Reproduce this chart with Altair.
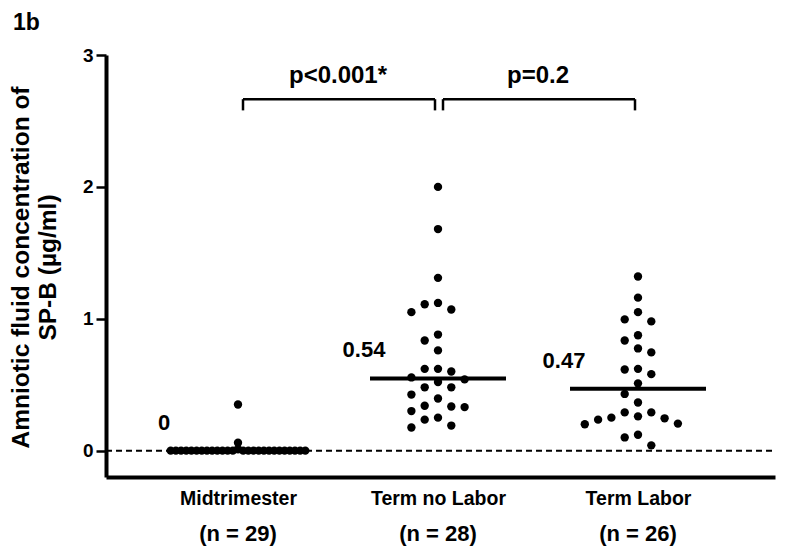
import altair as alt
import numpy as np
import pandas as pd

# ---------------- data ----------------
groups = ["Midtrimester", "Term no Labor", "Term Labor"]

mid_values = [0.35, 0.06, 0.01, 0.0, 0.0, 0.0, 0.0, 0.0, 0.0, 0.0, 0.0, 0.0,
              0.0, 0.0, 0.0, 0.0, 0.0, 0.0, 0.0, 0.0, 0.0, 0.0, 0.0, 0.0,
              0.0, 0.0, 0.0, 0.0, 0.0]
term_no_labor = [2.00, 1.68, 1.31, 1.12, 1.11, 1.07, 1.05, 0.88, 0.835, 0.76,
                 0.62, 0.62, 0.60, 0.555, 0.54, 0.52, 0.48, 0.48, 0.425, 0.395,
                 0.34, 0.335, 0.33, 0.30, 0.25, 0.235, 0.19, 0.175]
term_labor = [1.32, 1.16, 1.05, 0.995, 0.98, 0.875, 0.835, 0.775, 0.745, 0.62,
              0.615, 0.58, 0.51, 0.43, 0.365, 0.29, 0.26, 0.245, 0.205, 0.20,
              0.235, 0.25, 0.29, 0.12, 0.10, 0.04]
median_labels = ["0", "0.54", "0.47"]
comparisons = [(1, 2, "p<0.001*"), (2, 3, "p=0.2")]
y_ticks = [0, 1, 2, 3]
fig_label = "1b"

all_values = [mid_values, term_no_labor, term_labor]

# ---------------- layout ----------------
W, H = 669, 422
XMIN, XMAX = 0.34, 3.685
YMIN, YMAX = -0.2, 3.0
PX_X = W / (XMAX - XMIN)
PX_Y = H / (YMAX - YMIN)
FONT = "Liberation Sans"


def swarm(vals, step=13.3, max_half=70.0):
    """Simple greedy beeswarm; returns x offsets in data units."""
    d = step
    order = sorted(range(len(vals)), key=lambda i: -vals[i])
    while True:
        placed = []
        res = [0.0] * len(vals)
        for i in order:
            yy = vals[i] * PX_Y
            k = 0
            found = None
            while found is None:
                cands = [0] if k == 0 else [-k, k]
                for c in cands:
                    xx = c * d
                    if all((xx - px) ** 2 + (yy - py) ** 2 >= d * d * 0.98 for px, py in placed):
                        found = xx
                        break
                k += 1
            placed.append((found, yy))
            res[i] = found
        if max(abs(r) for r in res) <= max_half or d < 2:
            return [r / PX_X for r in res]
        d *= 0.93


rows = []
for gi, vals in enumerate(all_values, start=1):
    offs = swarm(vals)
    for v, o in zip(vals, offs):
        rows.append({"group": groups[gi - 1], "x": gi + o, "value": v})
points = pd.DataFrame(rows)

med = pd.DataFrame({
    "group": groups,
    "center": [1, 2, 3],
    "median": [float(np.median(v)) for v in all_values],
    "label": median_labels,
    "n": [f"(n = {len(v)})" for v in all_values],
})
med["x1"] = med["center"] - 0.34
med["x2"] = med["center"] + 0.34
med["lx"] = med["center"] - 0.37

br_y, br_tick = 2.665, 2.58
brackets = pd.DataFrame([
    {"x1": a + 0.025, "x2": b - 0.015, "y": br_y, "label": t,
     "mid": (a + b) / 2, "ty": 2.79}
    for a, b, t in comparisons
])
br_ticks = pd.DataFrame(
    [{"x": a + 0.025, "y1": br_y, "y2": br_tick} for a, b, t in comparisons]
    + [{"x": b - 0.015, "y1": br_y, "y2": br_tick} for a, b, t in comparisons]
)

label_expr = " : ".join(
    [f"datum.value == {i + 1} ? '{g}'" for i, g in enumerate(groups[:-1])]
) + f" : '{groups[-1]}'"

x_axis = alt.Axis(values=[1, 2, 3], labelExpr=label_expr, ticks=False, grid=False,
                  domainWidth=4, domainColor="black", labelPadding=12,
                  labelFontSize=19.5, labelFontWeight="bold", labelFont=FONT,
                  labelColor="black", title=None)
y_axis = alt.Axis(values=y_ticks, format="d", grid=False, tickSize=10, tickWidth=2.5,
                  tickColor="black", domainWidth=4, domainColor="black",
                  labelFontSize=19, labelFontWeight="bold", labelFont=FONT,
                  labelColor="black", labelPadding=3,
                  title=["Amniotic fluid concentration of", "SP-B (µg/ml)"],
                  titleFont=FONT, titleFontSize=24.5, titleFontWeight="bold",
                  titleColor="black", titleAngle=-90, titleBaseline="top",
                  titleAlign="center", titleX=-97, titleY=212, titleLineHeight=27)

xs = alt.Scale(domain=[XMIN, XMAX], nice=False, zero=False)
ys = alt.Scale(domain=[YMIN, YMAX], nice=False, zero=False)


def X(f):
    return alt.X(f, type="quantitative", scale=xs, axis=x_axis)


def Y(f):
    return alt.Y(f, type="quantitative", scale=ys, axis=y_axis)


zero_line = alt.Chart(pd.DataFrame({"v": [0.0]})).mark_rule(
    color="black", strokeWidth=2, strokeDash=[6, 4]
).encode(y=Y("v"), x=alt.value(0), x2=alt.value(W))

median_lines = alt.Chart(med).mark_rule(color="black", strokeWidth=4).encode(
    x=X("x1"), x2="x2", y=Y("median"))

dots = alt.Chart(points).mark_circle(color="black", size=70, opacity=1).encode(
    x=X("x"), y=Y("value"))

median_text = alt.Chart(med).mark_text(
    font=FONT, fontSize=22, fontWeight="bold", color="black",
    align="center", baseline="alphabetic", dy=-21
).encode(x=X("lx"), y=Y("median"), text="label")

br_h = alt.Chart(brackets).mark_rule(color="black", strokeWidth=2.5).encode(
    x=X("x1"), x2="x2", y=Y("y"))
br_v = alt.Chart(br_ticks).mark_rule(color="black", strokeWidth=2.5).encode(
    x=X("x"), y=Y("y1"), y2="y2")
p_text = alt.Chart(brackets).mark_text(
    font=FONT, fontSize=24, fontWeight="bold", color="black",
    align="center", baseline="alphabetic"
).encode(x=X("mid"), y=Y("ty"), text="label")

n_text = alt.Chart(med).mark_text(
    font=FONT, fontSize=22, fontWeight="bold", color="black",
    align="center", baseline="alphabetic"
).encode(x=X("center"), y=alt.value(H + 64), text="n")

title_text = alt.Chart(pd.DataFrame({"t": [fig_label]})).mark_text(
    font=FONT, fontSize=23, fontWeight="bold", color="black",
    align="left", baseline="top"
).encode(x=alt.value(-93), y=alt.value(-43), text="t")

chart = alt.layer(
    zero_line, median_lines, dots, median_text, br_h, br_v, p_text, n_text, title_text
).properties(
    width=W, height=H,
    padding={"left": 98, "top": 47, "right": 17, "bottom": 69},
    autosize=alt.AutoSizeParams(type="none"),
    background="white",
).configure_view(stroke=None)

chart.save("out.html", embed_options={"renderer": "svg", "actions": False})
